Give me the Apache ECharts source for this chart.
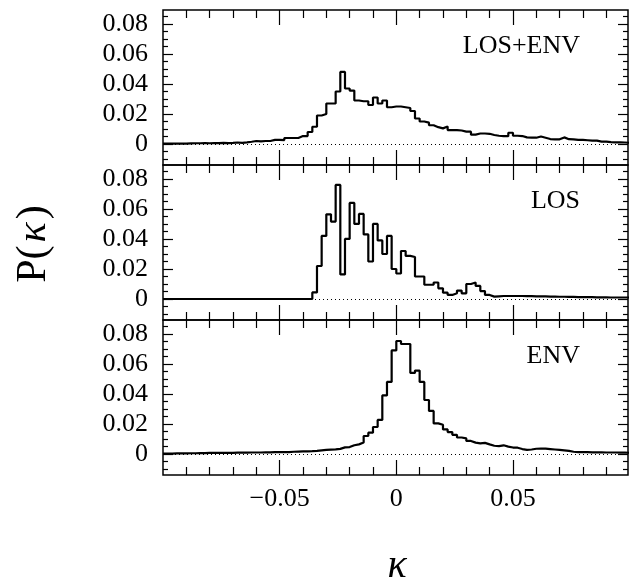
<!DOCTYPE html>
<html>
<head>
<meta charset="utf-8">
<script src="https://cdn.jsdelivr.net/npm/echarts@6/dist/echarts.min.js"></script>
<style>
  html, body { margin: 0; padding: 0; background: #fff; }
  #chart { width: 629px; height: 581px; }
</style>
</head>
<body>
<div id="chart"></div>
<script>
// histogram bins: 100 bins of width 0.002 starting at kappa = -0.1
const binStart = -0.1;
const binWidth = 0.002;

const losEnv = [
  0.0002, 0.0002, 0.0003, 0.0003, 0.0003, 0.0004, 0.0005, 0.0005, 0.0006, 0.0005,
  0.0006, 0.0006, 0.0007, 0.0006, 0.0007, 0.0010, 0.0008, 0.0011, 0.0015, 0.0020,
  0.0017, 0.0020, 0.0020, 0.0027, 0.0027, 0.0026, 0.0040, 0.0040, 0.0040, 0.0053,
  0.0053, 0.0080, 0.0115, 0.0190, 0.0200, 0.0270, 0.0270, 0.0350, 0.0480, 0.0370,
  0.0356, 0.0290, 0.0285, 0.0285, 0.0260, 0.0310, 0.0270, 0.0290, 0.0245, 0.0250,
  0.0250, 0.0245, 0.0240, 0.0220, 0.0170, 0.0150, 0.0142, 0.0125, 0.0112, 0.0104,
  0.0116, 0.0093, 0.0093, 0.0090, 0.0082, 0.0082, 0.0062, 0.0070, 0.0070, 0.0068,
  0.0060, 0.0055, 0.0052, 0.0052, 0.0075, 0.0055, 0.0053, 0.0044, 0.0042, 0.0042,
  0.0050, 0.0042, 0.0033, 0.0031, 0.0031, 0.0044, 0.0032, 0.0031, 0.0027, 0.0027,
  0.0025, 0.0022, 0.0022, 0.0016, 0.0016, 0.0013, 0.0011, 0.0011, 0.0010, 0.0008
];

const los = [
  0, 0, 0, 0, 0, 0, 0, 0, 0, 0,
  0, 0, 0, 0, 0, 0, 0, 0, 0, 0,
  0, 0, 0, 0, 0, 0, 0, 0, 0, 0,
  0, 0, 0.0044, 0.0220, 0.0420, 0.0564, 0.0516, 0.0760, 0.0164, 0.0400,
  0.0640, 0.0500, 0.0567, 0.0430, 0.0250, 0.0500, 0.0390, 0.0300, 0.0420, 0.0200,
  0.0170, 0.0320, 0.0287, 0.0280, 0.0150, 0.0150, 0.0095, 0.0095, 0.0110, 0.0071,
  0.0042, 0.0027, 0.0038, 0.0056, 0.0038, 0.0100, 0.0110, 0.0087, 0.0053, 0.0027,
  0.0016, 0.0018, 0.0020, 0.0020, 0.0020, 0.0020, 0.0020, 0.0019, 0.0019, 0.0018,
  0.0018, 0.0017, 0.0016, 0.0016, 0.0015, 0.0015, 0.0014, 0.0014, 0.0013, 0.0013,
  0.0012, 0.0012, 0.0011, 0.0011, 0.0011, 0.0010, 0.0010, 0.0010, 0.0010, 0.0010
];

const env = [
  0.0003, 0.0003, 0.0004, 0.0004, 0.0004, 0.0005, 0.0005, 0.0006, 0.0006, 0.0007,
  0.0007, 0.0007, 0.0008, 0.0008, 0.0008, 0.0009, 0.0009, 0.0009, 0.0010, 0.0010,
  0.0010, 0.0011, 0.0011, 0.0012, 0.0012, 0.0013, 0.0013, 0.0015, 0.0016, 0.0017,
  0.0018, 0.0019, 0.0021, 0.0024, 0.0027, 0.0029, 0.0031, 0.0034, 0.0044, 0.0046,
  0.0058, 0.0064, 0.0076, 0.0120, 0.0142, 0.0180, 0.0227, 0.0390, 0.0480, 0.0690,
  0.0753, 0.0733, 0.0733, 0.0540, 0.0556, 0.0480, 0.0360, 0.0287, 0.0204, 0.0195,
  0.0164, 0.0146, 0.0128, 0.0110, 0.0104, 0.0087, 0.0076, 0.0071, 0.0074, 0.0064,
  0.0055, 0.0053, 0.0058, 0.0049, 0.0043, 0.0042, 0.0033, 0.0028, 0.0030, 0.0035,
  0.0036, 0.0036, 0.0033, 0.0030, 0.0027, 0.0024, 0.0021, 0.0015, 0.0013, 0.0012,
  0.0012, 0.0011, 0.0011, 0.0011, 0.0010, 0.0010, 0.0010, 0.0009, 0.0009, 0.0008
];

const panelNames = ['LOS+ENV', 'LOS', 'ENV'];
const xMajorTicks = [-0.05, 0, 0.05];
const xMinorTicks = [-0.09, -0.08, -0.07, -0.06, -0.04, -0.03, -0.02, -0.01,
  0.01, 0.02, 0.03, 0.04, 0.06, 0.07, 0.08, 0.09];
const yMajorTicks = [0, 0.02, 0.04, 0.06, 0.08];
const yMinorTicks = [-0.01, -0.005, 0.005, 0.01, 0.015, 0.025, 0.03, 0.035,
  0.045, 0.05, 0.055, 0.065, 0.07, 0.075, 0.085];

const FONT = '"Liberation Serif", "DejaVu Serif", serif';
const xMin = -0.1, xMax = 0.0993;
const yMin = -0.014, yMax = 0.0893;
const panelTops = [10, 165, 320];
const panelHeight = 155;

// step line points: left edge of each bin, plus the right edge of the last one
const toSteps = (values) => {
  const pts = values.map((v, i) => [binStart + i * binWidth, v]);
  pts.push([binStart + values.length * binWidth, values[values.length - 1]]);
  return pts;
};

const tickStyle = { color: '#000', width: 1.2 };

const makeX = (g, position, ticks, len, labels) => ({
  gridIndex: g,
  type: 'value',
  position: position,
  min: xMin,
  max: xMax,
  axisLine: { show: false, onZero: false },
  splitLine: { show: false },
  axisTick: { show: true, inside: true, length: len, customValues: ticks, lineStyle: tickStyle },
  axisLabel: labels
    ? {
        show: true,
        customValues: xMajorTicks,
        margin: 11,
        color: '#000',
        fontFamily: FONT,
        fontSize: 26,
        formatter: (v) => (v === 0 ? '0' : (v < 0 ? '\u2212' : '') + Math.abs(v).toFixed(2))
      }
    : { show: false }
});

const makeY = (g, position, ticks, len, labels) => ({
  gridIndex: g,
  type: 'value',
  position: position,
  min: yMin,
  max: yMax,
  axisLine: { show: false, onZero: false },
  splitLine: { show: false },
  axisTick: { show: true, inside: true, length: len, customValues: ticks, lineStyle: tickStyle },
  axisLabel: labels
    ? {
        show: true,
        customValues: yMajorTicks,
        margin: 15,
        color: '#000',
        fontFamily: FONT,
        fontSize: 26,
        formatter: (v) => (v === 0 ? '0' : v.toFixed(2))
      }
    : { show: false }
});

const grids = [];
const xAxes = [];
const yAxes = [];
const series = [];
const panelData = [losEnv, los, env];

panelData.forEach((values, g) => {
  grids.push({
    left: 163,
    width: 465,
    top: panelTops[g],
    height: panelHeight,
    show: true,
    borderColor: '#000',
    borderWidth: 1.5,
    backgroundColor: 'transparent'
  });
  xAxes.push(
    makeX(g, 'bottom', xMajorTicks, 15, g === 2),
    makeX(g, 'bottom', xMinorTicks, 8, false),
    makeX(g, 'top', xMajorTicks, 15, false),
    makeX(g, 'top', xMinorTicks, 8, false)
  );
  yAxes.push(
    makeY(g, 'left', yMajorTicks, 10, true),
    makeY(g, 'left', yMinorTicks, 5, false),
    makeY(g, 'right', yMajorTicks, 10, false),
    makeY(g, 'right', yMinorTicks, 5, false)
  );
  series.push({
    name: panelNames[g],
    type: 'line',
    xAxisIndex: g * 4,
    yAxisIndex: g * 4,
    step: 'end',
    symbol: 'none',
    data: toSteps(values),
    lineStyle: { color: '#000', width: 2.2 },
    markLine: {
      silent: true,
      symbol: 'none',
      label: { show: false },
      lineStyle: { color: '#000', width: 1, type: [1, 3] },
      data: [{ yAxis: 0 }]
    },
    z: 3
  });
});

const labelY = [47, 202, 357];

const chart = echarts.init(document.getElementById('chart'));
chart.setOption({
  animation: false,
  backgroundColor: '#fff',
  grid: grids,
  xAxis: xAxes,
  yAxis: yAxes,
  series: series,
  graphic: [
    ...panelNames.map((name, g) => ({
      type: 'text',
      right: 49,
      top: labelY[g] - 14,
      style: { text: name, fill: '#000', font: '26px ' + FONT }
    })),
    {
      type: 'text',
      x: 34,
      y: 244,
      rotation: Math.PI / 2,
      style: {
        text: '{r|P(}{i|\u03ba}{r|)}',
        align: 'center',
        verticalAlign: 'middle',
        rich: {
          r: { fontFamily: FONT, fontSize: 42, fill: '#000' },
          i: { fontFamily: FONT, fontSize: 42, fontStyle: 'italic', fill: '#000', padding: [0, 3, 0, 3] }
        }
      }
    },
    {
      type: 'text',
      x: 397,
      y: 566,
      style: {
        text: '\u03ba',
        align: 'center',
        verticalAlign: 'middle',
        fill: '#000',
        font: 'italic 40px ' + FONT
      }
    }
  ]
});
</script>
</body>
</html>
